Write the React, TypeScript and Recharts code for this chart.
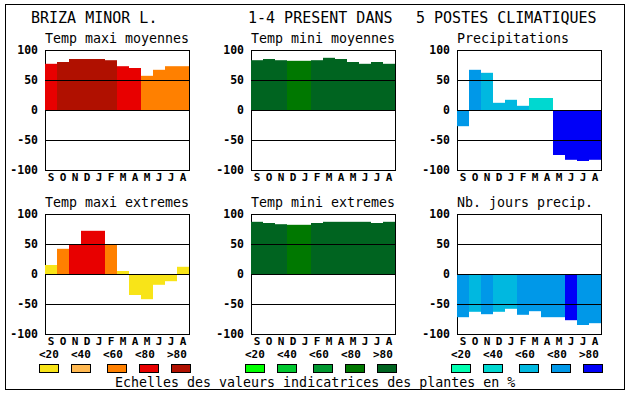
import { BarChart, Bar, XAxis, YAxis, Cell, ReferenceLine, ReferenceArea } from 'recharts';

// mois de septembre a aout
const mois = ['S', 'O', 'N', 'D', 'J', 'F', 'M', 'A', 'M', 'J', 'J', 'A'];
const graduations = [-100, -50, 0, 50, 100];
const classes = ['<20', '<40', '<60', '<80', '>80'];

const tempMaxiMoy = [77, 80, 85, 85, 85, 83, 73, 70, 57, 67, 73, 73];
const tempMaxiMoyClasse = [3, 4, 4, 4, 4, 4, 3, 3, 2, 2, 2, 2];

const tempMiniMoy = [83, 85, 83, 82, 82, 83, 87, 85, 80, 77, 80, 77];
const tempMiniMoyClasse = [4, 4, 4, 3, 3, 4, 4, 4, 4, 4, 4, 4];

const precip = [-27, 67, 62, 12, 17, 7, 20, 20, -75, -83, -85, -83];
const precipClasse = [3, 3, 2, 2, 2, 2, 1, 1, 4, 4, 4, 4];

const tempMaxiExt = [15, 42, 50, 72, 72, 50, 5, -35, -42, -18, -12, 12];
const tempMaxiExtClasse = [0, 2, 3, 3, 3, 2, 0, 0, 0, 0, 0, 0];

const tempMiniExt = [87, 85, 83, 82, 82, 85, 87, 87, 87, 87, 85, 87];
const tempMiniExtClasse = [4, 4, 4, 3, 3, 4, 4, 4, 4, 4, 4, 4];

const joursPrecip = [-72, -63, -67, -63, -58, -68, -62, -72, -72, -77, -85, -82];
const joursPrecipClasse = [3, 2, 3, 2, 2, 3, 3, 3, 3, 4, 3, 3];

const rouges = ['#f8e418', '#ffb850', '#ff8000', '#e80000', '#b01000'];
const verts = ['#00ff00', '#00c830', '#009830', '#007800', '#006420'];
const bleus = ['#00ffb0', '#00d8d0', '#00b8e0', '#0098e8', '#0000f8'];

const police = 'DejaVu Sans Mono';
const colonnes = [45, 251, 457];
const lignes = [50, 214];
const decalageCases = [0, 32, 68, 100, 132];

const panneaux = [
  { titre: 'Temp maxi moyennes', valeurs: tempMaxiMoy, cl: tempMaxiMoyClasse, palette: rouges, col: 0, lig: 0 },
  { titre: 'Temp mini moyennes', valeurs: tempMiniMoy, cl: tempMiniMoyClasse, palette: verts, col: 1, lig: 0 },
  { titre: 'Precipitations', valeurs: precip, cl: precipClasse, palette: bleus, col: 2, lig: 0 },
  { titre: 'Temp maxi extremes', valeurs: tempMaxiExt, cl: tempMaxiExtClasse, palette: rouges, col: 0, lig: 1 },
  { titre: 'Temp mini extremes', valeurs: tempMiniExt, cl: tempMiniExtClasse, palette: verts, col: 1, lig: 1 },
  { titre: 'Nb. jours precip.', valeurs: joursPrecip, cl: joursPrecipClasse, palette: bleus, col: 2, lig: 1 },
];

const Panneau = ({ valeurs, cl, palette, left, top }: any) => {
  const data = mois.map((m, i) => ({ m, v: valeurs[i], c: cl[i] }));
  return (
    <div style={{ position: 'absolute', left: left - 40, top: top - 6 }}>
      <BarChart width={186} height={142} data={data} margin={{ top: 6, right: 2, left: 0, bottom: 0 }} barCategoryGap={0}>
        <XAxis
          dataKey="m"
          interval={0}
          height={16}
          tickLine={false}
          axisLine={false}
          tickSize={0}
          tickMargin={3}
          tick={{ fill: '#000', fontSize: 11, fontWeight: 'bold', fontFamily: police }}
        />
        <YAxis
          domain={[-100, 100]}
          ticks={graduations}
          interval={0}
          width={40}
          tickLine={false}
          axisLine={false}
          tickSize={0}
          tickMargin={7}
          tick={{ fill: '#000', fontSize: 11.5, fontWeight: 'bold', fontFamily: police }}
        />
        <Bar dataKey="v" isAnimationActive={false}>
          {data.map((d, i) => (
            <Cell key={i} fill={palette[d.c]} />
          ))}
        </Bar>
        <ReferenceLine y={50} stroke="#000" shapeRendering="crispEdges" />
        <ReferenceLine y={0} stroke="#000" shapeRendering="crispEdges" />
        <ReferenceLine y={-50} stroke="#000" shapeRendering="crispEdges" />
        <ReferenceArea y1={-100} y2={100} fill="none" fillOpacity={0} stroke="#000" shapeRendering="crispEdges" />
      </BarChart>
    </div>
  );
};

const App = () => {
  const palettes = [rouges, verts, bleus];
  return (
    <div style={{ position: 'absolute', left: 0, top: 0, width: 630, height: 394, background: '#fff' }}>
      <svg width={630} height={394} style={{ position: 'absolute', left: 0, top: 0 }} fontFamily={police}>
        <rect x={5.5} y={4.5} width={619} height={385} fill="none" stroke="#000" />
        <text x={31} y={23} fontSize={15}>BRIZA MINOR L.</text>
        <text x={248} y={23} fontSize={15}>1-4 PRESENT DANS</text>
        <text x={416} y={23} fontSize={15}>5 POSTES CLIMATIQUES</text>
        {panneaux.map((p) => (
          <text key={p.titre} x={colonnes[p.col]} y={lignes[p.lig] - 7} fontSize={13.3}>
            {p.titre}
          </text>
        ))}
        {colonnes.map((x, c) => (
          <g key={c}>
            {classes.map((lib, i) => (
              <g key={lib}>
                <text x={x - 6 + 32 * i} y={358} fontSize={11} fontWeight="bold">{lib}</text>
                <rect
                  x={x - 6 + decalageCases[i] + 0.5}
                  y={364.5}
                  width={19}
                  height={8}
                  fill={palettes[c][i]}
                  stroke="#000"
                />
              </g>
            ))}
          </g>
        ))}
        <text x={115} y={387} fontSize={13.3}>Echelles des valeurs indicatrices des plantes en %</text>
      </svg>
      {panneaux.map((p) => (
        <Panneau
          key={p.titre}
          valeurs={p.valeurs}
          cl={p.cl}
          palette={p.palette}
          left={colonnes[p.col]}
          top={lignes[p.lig]}
        />
      ))}
    </div>
  );
};

export default App;
